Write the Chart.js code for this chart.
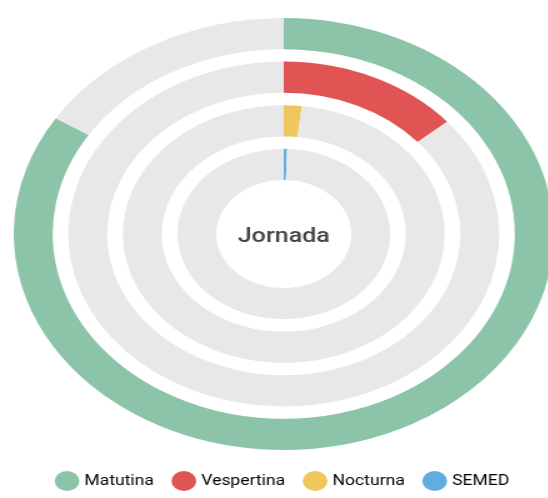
<!DOCTYPE html>
<html>
<head>
<meta charset="utf-8">
<script src="https://cdn.jsdelivr.net/npm/chart.js@4"></script>
<style>
    html, body { margin: 0; padding: 0; background: #fff; overflow: hidden; }
    body { width: 548px; height: 498px; position: relative; }
    #wrap {
        position: absolute; left: 0; top: 0;
        width: 454px; height: 498px;
        transform: scaleX(1.25); transform-origin: 0 0;
    }
</style>
</head>
<body>
<div id="wrap"><canvas id="jornadaChart"></canvas></div>
<script>
// Data
const categories = ['Matutina', 'Vespertina', 'Nocturna', 'SEMED'];
const values = [84.0, 13.7, 1.8, 0.5];
const centerLabel = 'Jornada';

// Colors
const colors = ['#8bc4a8', '#e05454', '#eec65c', '#5eaee0'];
const rest = '#e8e8e8';

const total = values.reduce((a, b) => a + b, 0);

// one ring per category, with a transparent spacer ring between them
const datasets = [];
categories.forEach(function (name, i) {
    if (i > 0) {
        datasets.push({
            label: 'spacer' + i,
            data: [1],
            backgroundColor: ['rgba(0,0,0,0)'],
            borderWidth: 0,
            weight: 0.4
        });
    }
    datasets.push({
        label: name,
        data: [values[i], total - values[i]],
        backgroundColor: [colors[i], rest],
        borderWidth: 0,
        weight: 1
    });
});

const centerText = {
    id: 'centerText',
    afterDraw(chart) {
        const {ctx, chartArea} = chart;
        ctx.save();
        ctx.font = '500 20px Roboto';
        ctx.fillStyle = '#444';
        ctx.textAlign = 'center';
        ctx.textBaseline = 'middle';
        ctx.fillText(centerLabel, (chartArea.left + chartArea.right) / 2, (chartArea.top + chartArea.bottom) / 2 + 3);
        ctx.restore();
    }
};

new Chart(document.getElementById('jornadaChart'), {
    type: 'doughnut',
    data: {
        labels: ['valor', 'resto'],
        datasets: datasets
    },
    options: {
        responsive: true,
        maintainAspectRatio: false,
        animation: false,
        radius: 216,
        cutout: '25%',
        layout: { padding: { top: 11 } },
        plugins: {
            tooltip: { enabled: false },
            legend: {
                position: 'bottom',
                labels: {
                    usePointStyle: true,
                    color: '#666',
                    padding: 17,
                    font: { family: 'Roboto', size: 14 },
                    generateLabels: function () {
                        return categories.map(function (name, i) {
                            return {
                                text: name,
                                fillStyle: colors[i],
                                strokeStyle: colors[i],
                                lineWidth: 0,
                                pointStyle: 'circle',
                                hidden: false,
                                datasetIndex: i * 2
                            };
                        });
                    }
                }
            }
        }
    },
    plugins: [centerText]
});
</script>
</body>
</html>
